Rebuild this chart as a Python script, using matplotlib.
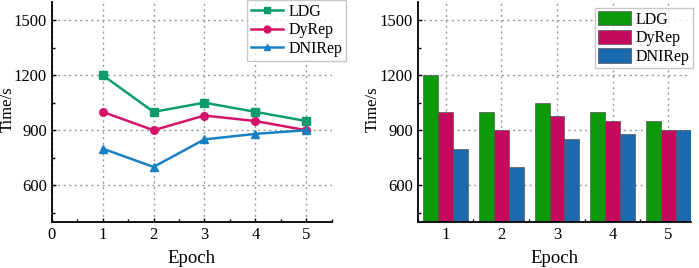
import matplotlib
matplotlib.use('Agg')
import matplotlib.pyplot as plt
from matplotlib.ticker import MultipleLocator

# data
epochs = [1, 2, 3, 4, 5]
ldg = [1200, 1000, 1050, 1000, 950]
dyrep = [1000, 900, 980, 950, 900]
dnirep = [800, 700, 850, 880, 900]
names = ['LDG', 'DyRep', 'DNIRep']

plt.rcParams['font.family'] = ['Liberation Serif', 'DejaVu Serif']

fig = plt.figure(figsize=(6.99, 2.68), dpi=100)
ax1 = fig.add_axes([0.074, 0.1716, 0.4005, 0.822])
ax2 = fig.add_axes([0.5976, 0.1716, 0.3904, 0.822])


def style(ax, ylab_x):
    for s in ['top', 'right']:
        ax.spines[s].set_visible(False)
    for s in ['left', 'bottom']:
        ax.spines[s].set_linewidth(1.3)
    ax.grid(True, linestyle=(0, (1.5, 2.5)), color='#999999', linewidth=1.0)
    ax.set_axisbelow(True)
    ax.set_ylim(400, 1600)
    ax.set_yticks([600, 900, 1200, 1500])
    ax.yaxis.set_minor_locator(MultipleLocator(150))
    ax.tick_params(direction='in', length=3, width=1, labelsize=12)
    ax.tick_params(which='minor', direction='in', length=2, width=1)
    ax.set_ylabel('Time/s', fontsize=12)
    ax.yaxis.set_label_coords(ylab_x, 0.51)
    ax.set_xlabel('Epoch', fontsize=13.5, labelpad=5)


# line chart
c_line = ['#0e9c6c', '#d4146a', '#1a80c4']
mk = ['s', 'o', '^']
for vals, c, m, n in zip([ldg, dyrep, dnirep], c_line, mk, names):
    ax1.plot(epochs, vals, color=c, marker=m, markersize=5.5, linewidth=1.8, label=n)
style(ax1, -0.128)
ax1.set_xlim(0, 5.5)
ax1.set_xticks([0, 1, 2, 3, 4, 5])
ax1.xaxis.set_minor_locator(MultipleLocator(0.5))
ax1.legend(loc='upper right', bbox_to_anchor=(346 / 699, 1.0), bbox_transform=fig.transFigure,
           fontsize=11.5, frameon=True, fancybox=False, edgecolor='#bbbbbb',
           handlelength=2.0, borderpad=0.25, labelspacing=0.15, handletextpad=0.3,
           borderaxespad=0, markerscale=0.9)

# bar chart
c_bar = ['#0a9a0a', '#c40a5c', '#1a6aad']
w = 0.8 / 3
for i, (vals, c, n) in enumerate(zip([ldg, dyrep, dnirep], c_bar, names)):
    xs = [e + (i - 1) * w for e in epochs]
    ax2.bar(xs, [v - 400 for v in vals], width=w, bottom=400, color=c,
            edgecolor='#555555', linewidth=0.5, label=n)
style(ax2, -0.136)
ax2.set_xlim(0.5, 5.4)
ax2.set_xticks(epochs)
ax2.xaxis.set_minor_locator(MultipleLocator(0.5))
ax2.legend(loc='upper right', bbox_to_anchor=(693 / 699, 1 - 8 / 268), bbox_transform=fig.transFigure,
           fontsize=11.5, frameon=True, fancybox=False, edgecolor='#bbbbbb',
           handlelength=2.05, handleheight=1.0, borderpad=0.2, labelspacing=0.12,
           handletextpad=0.3, borderaxespad=0)

fig.savefig('out.png', dpi=100)
